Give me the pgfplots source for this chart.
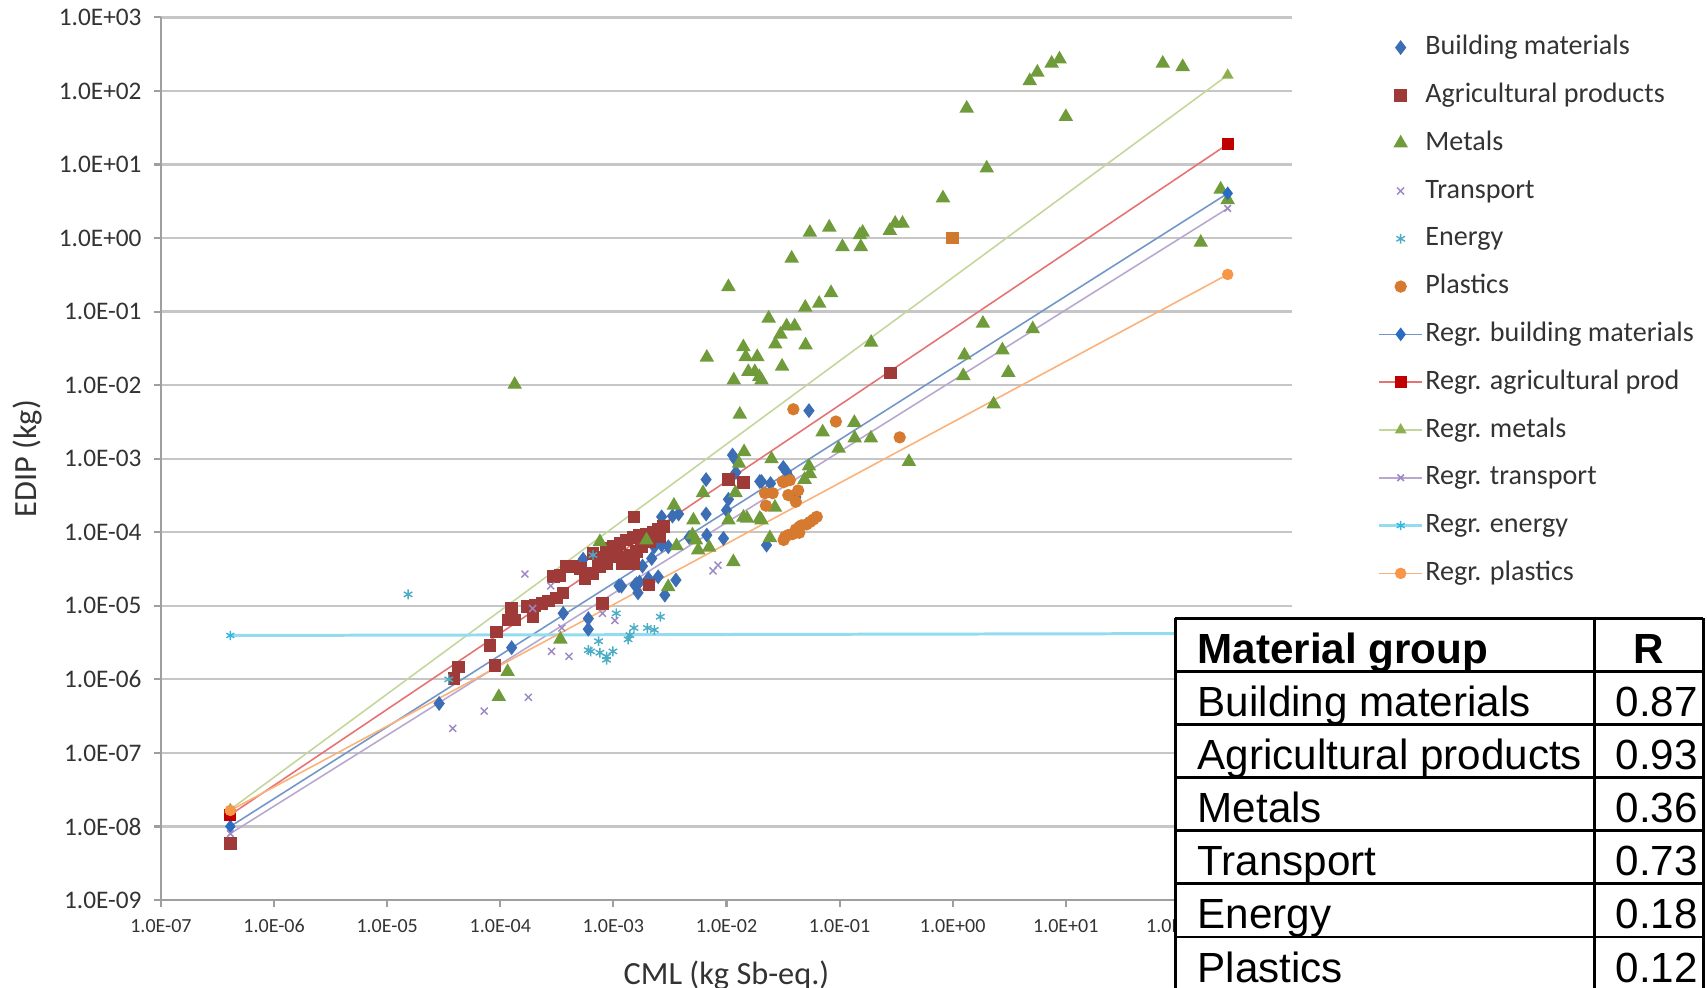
\documentclass[border=0pt]{standalone}
\usepackage{fontspec}
\setmainfont{Carlito}
\newfontfamily\arialfont{Liberation Sans}
\usepackage{pgfplots}
\pgfplotsset{compat=1.18}

\definecolor{cBuild}{HTML}{3B6EB4}
\definecolor{cAgri}{HTML}{9E3A38}
\definecolor{cMetal}{HTML}{6F9B3A}
\definecolor{cTrans}{HTML}{9C88C4}
\definecolor{cEnergy}{HTML}{4AACC5}
\definecolor{cPlast}{HTML}{D67A30}
\definecolor{cOdd}{HTML}{D0782E}
\definecolor{lBuild}{HTML}{7396C8}
\definecolor{mBuild}{HTML}{2A6CC2}
\definecolor{lAgri}{HTML}{E57373}
\definecolor{mAgri}{HTML}{C00000}
\definecolor{lMetal}{HTML}{C3D69B}
\definecolor{mMetal}{HTML}{8DB04F}
\definecolor{lTrans}{HTML}{B8A8D0}
\definecolor{mTrans}{HTML}{9E87C6}
\definecolor{lEnergy}{HTML}{93DCF0}
\definecolor{mEnergy}{HTML}{33B5E5}
\definecolor{lPlast}{HTML}{FAB27A}
\definecolor{mPlast}{HTML}{F79646}

\begin{document}
\begin{tikzpicture}
\useasboundingbox (0,0) rectangle (17.07,9.88);
\begin{axis}[
  at={(1.61cm,0.88cm)}, anchor=south west,
  width=11.31cm, height=8.826cm, scale only axis,
  xmode=log, ymode=log,
  xmin=1e-7, xmax=1e3, ymin=1e-9, ymax=1e3,
  axis x line*=bottom, axis y line*=left,
  axis line style={-, draw=gray!75, line width=0.6pt},
  xminorticks=false, yminorticks=false,
  xtick={1e-7,1e-6,1e-5,1e-4,1e-3,1e-2,1e-1,1,1e1,1e2,1e3},
  xticklabels={1.0E-07,1.0E-06,1.0E-05,1.0E-04,1.0E-03,1.0E-02,1.0E-01,1.0E+00,1.0E+01,1.0E+02,{}},
  ytick={1e-9,1e-8,1e-7,1e-6,1e-5,1e-4,1e-3,1e-2,1e-1,1,1e1,1e2,1e3},
  yticklabels={1.0E-09,1.0E-08,1.0E-07,1.0E-06,1.0E-05,1.0E-04,1.0E-03,1.0E-02,1.0E-01,1.0E+00,1.0E+01,1.0E+02,1.0E+03},
  tick align=outside, major tick length=2pt,
  tick style={draw=gray!75, line width=0.6pt},
  ymajorgrids, grid style={draw=gray!45, line width=0.65pt},
  xticklabel style={font=\fontsize{5.7}{6.5}\selectfont, text=black!80},
  yticklabel style={font=\fontsize{7.2}{8}\selectfont, text=black!80},
  xlabel={CML (kg Sb-eq.)}, ylabel={EDIP (kg)},
  label style={font=\fontsize{9.2}{11}\selectfont, text=black!80},
  xlabel style={at={(axis description cs:0.5,-0.0853)}, anchor=center},
  ylabel style={at={(axis description cs:-0.1185,0.5)}, anchor=center},
  legend image code/.code={\draw[mark repeat=2,mark phase=2,#1] plot coordinates {(0cm,0cm) (0.215cm,0cm) (0.43cm,0cm)};},
  legend cell align=left,
  legend style={draw=none, fill=none, at={(1.0658,0.9925)}, anchor=north west,
    font=\fontsize{8}{9.6}\selectfont, text=black!80, row sep=4.6pt,
    nodes={inner sep=0.5pt, text height=6pt, text depth=2pt}},
]
% data series
\addplot[only marks, mark=diamond*, mark size=1.8pt, color=cBuild] coordinates {
 (2.88e-5,4.7e-7) (1.26e-4,2.7e-6) (3.6e-4,7.9e-6) (6.0e-4,6.7e-6) (6.0e-4,4.8e-6)
 (5.4e-4,4.3e-5) (1.12e-3,1.87e-5) (1.18e-3,1.85e-5) (1.55e-3,1.91e-5) (1.6e-3,2.0e-5)
 (1.7e-3,2.1e-5) (1.65e-3,1.5e-5) (1.81e-3,3.47e-5) (2.04e-3,2.35e-5) (2.18e-3,4.4e-5)
 (2.49e-3,2.48e-5) (2.85e-3,1.4e-5) (3.57e-3,2.24e-5) (2.67e-3,6.68e-5) (3.06e-3,6.35e-5)
 (2.30e-3,6.35e-5) (2.67e-3,1.62e-4) (3.33e-3,1.66e-4) (3.77e-3,1.77e-4) (4.68e-3,8.5e-5)
 (6.7e-3,9.14e-5) (9.4e-3,8.24e-5) (6.6e-3,1.77e-4) (6.6e-3,5.2e-4) (1.0e-2,2.0e-4)
 (1.04e-2,2.8e-4) (1.13e-2,1.12e-3) (1.19e-2,9.8e-4) (1.21e-2,6.5e-4) (1.97e-2,4.9e-4)
 (2.04e-2,4.9e-4) (2.45e-2,4.6e-4) (2.26e-2,6.68e-5) (3.18e-2,7.6e-4) (3.4e-2,6.6e-4)
 (3.59e-2,5.6e-4) (4.1e-2,3.0e-4) (5.36e-2,4.5e-3)
};
\addlegendentry{Building materials}
\addplot[only marks, mark=square*, mark size=1.6pt, color=cAgri] coordinates {
 (4.1e-7,5.9e-9) (3.9e-5,1.03e-6) (4.25e-5,1.47e-6) (8.1e-5,2.9e-6) (8.95e-5,1.55e-6)
 (9.3e-5,4.4e-6) (1.17e-4,6.4e-6) (1.34e-4,6.4e-6) (1.26e-4,9.2e-6) (1.73e-4,9.7e-6)
 (1.95e-4,7.1e-6) (2.03e-4,1.0e-5) (2.34e-4,1.07e-5) (2.66e-4,1.16e-5) (3.14e-4,1.28e-5)
 (3.58e-4,1.49e-5) (2.94e-4,2.48e-5) (3.38e-4,2.6e-5) (3.86e-4,3.4e-5) (4.4e-4,3.4e-5)
 (5.1e-4,3.2e-5) (5.6e-4,2.35e-5) (6.6e-4,2.75e-5) (7.3e-4,3.4e-5) (6.6e-4,5.1e-5)
 (8.1e-4,4.6e-5) (9.3e-4,5.4e-5) (1.06e-3,4.9e-5) (8.0e-4,1.07e-5) (7.6e-4,3.4e-5)
 (8.7e-4,3.76e-5) (8.7e-4,6.0e-5) (9.9e-4,6.35e-5) (9.3e-4,4.63e-5) (1.14e-3,7.07e-5)
 (1.14e-3,4.63e-5) (1.2e-3,3.76e-5) (1.3e-3,7.86e-5) (1.4e-3,4.88e-5) (1.49e-3,8.5e-5)
 (1.52e-3,3.76e-5) (1.52e-3,1.62e-4) (1.6e-3,5.42e-5) (1.71e-3,9.14e-5) (1.78e-3,6.35e-5)
 (1.96e-3,9.38e-5) (2.11e-3,7.46e-5) (2.25e-3,9.88e-5) (2.49e-3,1.08e-4) (2.58e-3,8.66e-5)
 (2.76e-3,1.2e-4) (2.07e-3,1.91e-5) (1.04e-2,5.2e-4) (1.41e-2,4.7e-4) (0.28,0.0147)
};
\addlegendentry{Agricultural products}
\addplot[only marks, mark=triangle*, mark size=2.0pt, color=cMetal] coordinates {
 (1.34e-4,0.0102) (9.7e-5,5.8e-7) (1.16e-4,1.27e-6) (3.4e-4,3.5e-6) (7.6e-4,7.4e-5)
 (1.96e-3,7.8e-5) (3.05e-3,1.81e-5) (3.43e-3,2.32e-4) (3.62e-3,6.5e-5) (5.0e-3,9.14e-5)
 (5.1e-3,1.46e-4) (5.36e-3,7.82e-5) (5.62e-3,5.72e-5) (6.2e-3,3.44e-4) (7.03e-3,6.22e-5)
 (1.04e-2,1.46e-4) (1.15e-2,3.96e-5) (1.2e-2,3.44e-4) (1.29e-2,8.6e-4) (1.31e-2,4.0e-3)
 (1.41e-2,1.59e-4) (1.52e-2,1.54e-4) (1.43e-2,1.24e-3) (1.97e-2,1.54e-4) (2.04e-2,1.46e-4)
 (2.42e-2,8.4e-5) (2.5e-2,9.9e-4) (2.68e-2,2.18e-4) (4.9e-2,5.2e-4) (5.36e-2,7.9e-4)
 (5.47e-2,6.2e-4) (7.08e-2,2.3e-3) (9.8e-2,1.38e-3) (0.135,3.1e-3) (0.136,1.9e-3)
 (0.189,1.9e-3) (0.41,9.1e-4) (0.19,0.038) (1.24,0.0134) (1.27,0.0255)
 (1.85,0.069) (2.3,0.0055) (2.75,0.030) (3.1,0.0148) (5.1,0.058)
 (6.7e-3,0.0238) (0.0104,0.217) (0.0116,0.0117) (0.0141,0.033) (0.0148,0.0243)
 (0.0156,0.0152) (0.0178,0.0152) (0.0187,0.0243) (0.0195,0.013) (0.0204,0.0117)
 (0.0236,0.081) (0.027,0.036) (0.030,0.049) (0.031,0.018) (0.034,0.0635)
 (0.040,0.0635) (0.050,0.035) (0.0377,0.53) (0.0497,0.114) (0.066,0.129)
 (0.084,0.18) (0.0546,1.19) (0.081,1.40) (0.106,0.76) (0.151,1.10)
 (0.16,1.19) (0.154,0.76) (0.278,1.26) (0.31,1.58) (0.36,1.58)
 (0.82,3.5) (1.33,58) (2.0,8.9) (4.8,137) (5.6,179)
 (7.5,237) (8.8,271) (10.0,44.6) (72,237) (108,213)
 (156,0.87) (234,4.6) (270,3.3)
};
\addlegendentry{Metals}
\addplot[only marks, mark=x, mark size=1.4pt, line width=0.4pt, color=cTrans] coordinates {
 (3.8e-5,2.15e-7) (7.2e-5,3.7e-7) (1.77e-4,5.7e-7) (1.65e-4,2.7e-5) (2.79e-4,1.87e-5)
 (1.93e-4,9.2e-6) (2.84e-4,2.4e-6) (4.05e-4,2.06e-6) (3.5e-4,5.0e-6) (8.0e-4,7.9e-6)
 (1.03e-3,6.3e-6) (7.6e-3,2.99e-5) (8.4e-3,3.57e-5)
};
\addlegendentry{Transport}
\addplot[only marks, mark=asterisk, mark size=1.4pt, line width=0.4pt, color=cEnergy] coordinates {
 (1.53e-5,1.43e-5) (3.5e-5,1.0e-6) (6.6e-4,4.9e-5) (7.4e-4,3.3e-6) (6.0e-4,2.5e-6)
 (6.3e-4,2.4e-6) (7.6e-4,2.3e-6) (8.7e-4,2.05e-6) (8.7e-4,1.85e-6) (9.9e-4,2.4e-6)
 (1.06e-3,7.9e-6) (1.35e-3,3.5e-6) (1.4e-3,4.0e-6) (1.52e-3,5.0e-6) (2.0e-3,5.0e-6)
 (2.3e-3,4.7e-6) (2.6e-3,7.1e-6)
};
\addlegendentry{Energy}
\addplot[only marks, mark=*, mark size=1.55pt, color=cPlast] coordinates {
 (0.039,0.0047) (0.0927,0.0032) (0.34,0.00195) (0.032,4.8e-4) (0.0363,5.1e-4)
 (0.0315,4.9e-4) (0.043,3.7e-4) (0.0219,3.4e-4) (0.0256,3.4e-4) (0.0352,3.2e-4)
 (0.041,2.6e-4) (0.0223,2.3e-4) (0.0628,1.62e-4) (0.0586,1.49e-4) (0.0547,1.38e-4)
 (0.051,1.28e-4) (0.046,1.24e-4) (0.044,1.18e-4) (0.041,1.09e-4) (0.044,9.85e-5)
 (0.0385,9.45e-5) (0.0352,9.15e-5) (0.033,8.7e-5) (0.032,7.86e-5)
};
\addlegendentry{Plastics}
\addplot[only marks, mark=square*, mark size=1.6pt, color=cOdd, forget plot] coordinates {(1.0,1.0)};
% regression lines
\addplot[color=lBuild, line width=0.45pt, mark=diamond*, mark size=1.6pt, mark options={draw=mBuild, fill=mBuild}] coordinates {(4.1e-7,1.0e-8) (270,4.05)};
\addlegendentry{Regr. building materials}
\addplot[color=lAgri, line width=0.45pt, mark=square*, mark size=1.5pt, mark options={draw=mAgri, fill=mAgri}] coordinates {(4.1e-7,1.44e-8) (270,18.9)};
\addlegendentry{Regr. agricultural prod}
\addplot[color=lMetal, line width=0.45pt, mark=triangle*, mark size=1.5pt, mark options={draw=mMetal, fill=mMetal}] coordinates {(4.1e-7,1.7e-8) (270,164)};
\addlegendentry{Regr. metals}
\addplot[color=lTrans, line width=0.45pt, mark=x, mark size=1.3pt, mark options={draw=mTrans}] coordinates {(4.1e-7,8.0e-9) (270,2.53)};
\addlegendentry{Regr. transport}
\addplot[color=lEnergy, line width=0.85pt, mark=asterisk, mark size=1.3pt, mark options={draw=mEnergy, line width=0.4pt}] coordinates {(4.1e-7,3.95e-6) (270,4.2e-6)};
\addlegendentry{Regr. energy}
\addplot[color=lPlast, line width=0.45pt, mark=*, mark size=1.4pt, mark options={draw=mPlast, fill=mPlast}] coordinates {(4.1e-7,1.65e-8) (270,0.32)};
\addlegendentry{Regr. plastics}
\end{axis}
% correlation table
\fill[white] (11.75,-0.2) rectangle (17.03,3.696);
\begin{scope}[line width=0.85pt]
\foreach \yy in {3.696,3.165,2.634,2.103,1.572,1.041,0.51}
  \draw (11.75,\yy) -- (17.03,\yy);
\draw (11.75,3.696) -- (11.75,-0.2);
\draw (15.94,3.696) -- (15.94,-0.2);
\draw (17.03,3.696) -- (17.03,-0.2);
\end{scope}
\begin{scope}[every node/.style={inner sep=0pt, font=\arialfont\fontsize{12}{14}\selectfont}]
\node[anchor=base west] at (11.97,3.245) {\bfseries Material group};
\node[anchor=base] at (16.485,3.245) {\bfseries R};
\node[anchor=base west] at (11.97,2.714) {Building materials};
\node[anchor=base east] at (16.985,2.714) {0.87};
\node[anchor=base west] at (11.97,2.183) {Agricultural products};
\node[anchor=base east] at (16.985,2.183) {0.93};
\node[anchor=base west] at (11.97,1.652) {Metals};
\node[anchor=base east] at (16.985,1.652) {0.36};
\node[anchor=base west] at (11.97,1.121) {Transport};
\node[anchor=base east] at (16.985,1.121) {0.73};
\node[anchor=base west] at (11.97,0.59) {Energy};
\node[anchor=base east] at (16.985,0.59) {0.18};
\node[anchor=base west] at (11.97,0.059) {Plastics};
\node[anchor=base east] at (16.985,0.059) {0.12};
\end{scope}
\end{tikzpicture}
\end{document}
